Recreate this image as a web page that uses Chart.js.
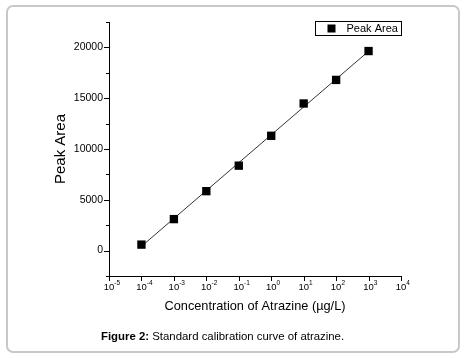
<!DOCTYPE html>
<html>
<head>
<meta charset="utf-8">
<script src="https://cdn.jsdelivr.net/npm/chart.js@4"></script>
<style>
  html, body { margin: 0; padding: 0; background: #fff; }
  #wrap { width: 467px; height: 358px; }
</style>
</head>
<body>
<div id="wrap"><canvas id="calib"></canvas></div>
<script>
// concentration of atrazine (ug/L) and measured peak area
const concentrations = [1e-4, 1e-3, 1e-2, 1e-1, 1e0, 1e1, 1e2, 1e3]
const peakAreas = [590, 3100, 5850, 8360, 11300, 14480, 16800, 19640]
// fitted line, end points
const fitX = [1e-4, 1e3]
const fitY = [420, 19620]
const xDecades = [-5, -4, -3, -2, -1, 0, 1, 2, 3, 4]
const yMajor = [0, 5000, 10000, 15000, 20000]

const FONT = "'Liberation Sans', Arial, sans-serif"
const NARROW = "'Liberation Sans Narrow', 'Liberation Sans', Arial, sans-serif"

// short outward tick marks, major and minor, plus 10^n labels on x
const tickMarks = {
  id: 'tickMarks',
  afterDraw(chart) {
    const ctx = chart.ctx
    const x = chart.scales.x, y = chart.scales.y
    ctx.save()
    ctx.strokeStyle = '#000'
    ctx.lineWidth = 1
    ctx.beginPath()
    x.ticks.forEach((t) => {
      const px = Math.round(x.getPixelForValue(t.value)) + 0.5
      ctx.moveTo(px, y.bottom)
      ctx.lineTo(px, y.bottom + 5)
    })
    y.ticks.forEach((t) => {
      const py = Math.round(y.getPixelForValue(t.value)) + 0.5
      const len = yMajor.includes(t.value) ? 5 : 3
      ctx.moveTo(x.left, py)
      ctx.lineTo(x.left - len, py)
    })
    ctx.stroke()

    ctx.fillStyle = '#000'
    ctx.textBaseline = 'alphabetic'
    x.ticks.forEach((t) => {
      const px = x.getPixelForValue(t.value)
      const exp = String(Math.round(Math.log10(t.value)))
      ctx.font = '9.5px ' + NARROW
      const bw = ctx.measureText('10').width
      ctx.textAlign = 'left'
      ctx.fillText('10', px - bw / 2, y.bottom + 14)
      ctx.font = '6.5px ' + NARROW
      ctx.fillText(exp, px + bw / 2, y.bottom + 9)
    })
    ctx.restore()
  }
}

// boxed legend inside the plot, top right
const boxLegend = {
  id: 'boxLegend',
  afterDraw(chart) {
    const ctx = chart.ctx
    const area = chart.chartArea
    const w = 86, h = 14
    const bx = area.right - w + 0.5, by = area.top - 1 + 0.5
    ctx.save()
    ctx.strokeStyle = '#000'
    ctx.lineWidth = 1
    ctx.strokeRect(bx, by, w, h)
    ctx.fillStyle = '#000'
    ctx.fillRect(bx + 12, by + 3, 8, 8)
    ctx.font = '11px ' + FONT
    ctx.textBaseline = 'middle'
    ctx.fillText(chart.data.datasets[0].label, bx + 31, by + h / 2 + 0.5)
    ctx.restore()
  }
}

// page frame and figure caption
const figureFrame = {
  id: 'figureFrame',
  beforeDraw(chart) {
    const ctx = chart.ctx
    ctx.save()
    ctx.strokeStyle = '#c8c8c8'
    ctx.lineWidth = 2
    ctx.beginPath()
    ctx.roundRect(7, 6, 452, 346, 6)
    ctx.stroke()
    ctx.restore()
  },
  afterDraw(chart) {
    const ctx = chart.ctx
    ctx.save()
    ctx.fillStyle = '#000'
    ctx.textBaseline = 'middle'
    ctx.font = 'bold 11.4px ' + FONT
    const lead = 'Figure 2:'
    ctx.fillText(lead, 101, 337)
    const lw = ctx.measureText(lead).width
    ctx.font = '11.4px ' + FONT
    ctx.fillText(' Standard calibration curve of atrazine.', 101 + lw, 337)
    ctx.restore()
  }
}

new Chart(document.getElementById('calib'), {
  type: 'scatter',
  data: {
    datasets: [
      {
        label: 'Peak Area',
        data: concentrations.map((c, i) => ({ x: c, y: peakAreas[i] })),
        pointStyle: 'rect',
        pointRadius: 5.9,
        pointHoverRadius: 5.9,
        backgroundColor: '#000',
        borderColor: '#000',
        borderWidth: 0,
        order: 0
      },
      {
        label: 'fit',
        data: fitX.map((c, i) => ({ x: c, y: fitY[i] })),
        showLine: true,
        pointRadius: 0,
        borderColor: '#333',
        borderWidth: 1,
        order: 1
      }
    ]
  },
  options: {
    responsive: true,
    maintainAspectRatio: false,
    animation: false,
    events: [],
    layout: { padding: { left: 52, top: 22, right: 66, bottom: 40 } },
    plugins: {
      legend: { display: false },
      tooltip: { enabled: false }
    },
    scales: {
      x: {
        type: 'logarithmic',
        min: 1e-5,
        max: 1e4,
        afterBuildTicks(scale) {
          scale.ticks = xDecades.map((d) => ({ value: Math.pow(10, d) }))
        },
        afterFit(scale) { scale.height = 42 },
        grid: { display: true, drawOnChartArea: false, drawTicks: false },
        border: { color: '#000', width: 1 },
        ticks: { display: false },
        title: {
          display: true,
          text: 'Concentration of Atrazine (µg/L)',
          color: '#000',
          font: { family: FONT, size: 12.75 },
          padding: { top: 0, bottom: 4 }
        }
      },
      y: {
        min: -2500,
        max: 22500,
        afterFit(scale) { scale.width = 57 },
        grid: { display: true, drawOnChartArea: false, drawTicks: false },
        border: { color: '#000', width: 1 },
        ticks: {
          stepSize: 2500,
          padding: 6,
          color: '#000',
          font: { family: FONT, size: 10.5 },
          callback: (v) => (yMajor.includes(v) ? String(v) : '')
        },
        title: {
          display: true,
          text: 'Peak Area',
          color: '#000',
          font: { family: FONT, size: 15 },
          padding: { top: 0, bottom: 0 }
        }
      }
    }
  },
  plugins: [tickMarks, boxLegend, figureFrame]
})
</script>
</body>
</html>
